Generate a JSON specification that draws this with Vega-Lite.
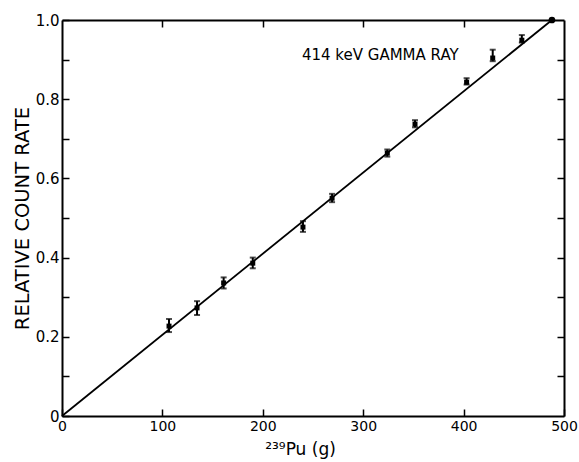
{
  "$schema": "https://vega.github.io/schema/vega-lite/v6.json",
  "width": 502,
  "height": 396,
  "autosize": {"type": "none"},
  "padding": {"left": 62, "top": 20, "right": 15, "bottom": 46},
  "config": {
    "view": {"stroke": null},
    "font": "DejaVu Sans",
    "axis": {
      "domainColor": "black", "domainWidth": 2, "tickColor": "black", "tickWidth": 1.5,
      "grid": false, "labelColor": "black", "titleColor": "black",
      "labelFont": "DejaVu Sans", "titleFont": "DejaVu Sans", "labelFontSize": 14, "titleFontSize": 15, "titleFontWeight": "normal"
    }
  },
  "datasets": {
    "pts": [
      {"pu": 106.6, "rate": 0.227, "lo": 0.212, "hi": 0.245},
      {"pu": 134.5, "rate": 0.273, "lo": 0.255, "hi": 0.29},
      {"pu": 161, "rate": 0.336, "lo": 0.322, "hi": 0.35},
      {"pu": 190, "rate": 0.386, "lo": 0.373, "hi": 0.4},
      {"pu": 240, "rate": 0.477, "lo": 0.465, "hi": 0.492},
      {"pu": 269, "rate": 0.55, "lo": 0.54, "hi": 0.561},
      {"pu": 324, "rate": 0.664, "lo": 0.655, "hi": 0.673},
      {"pu": 351.6, "rate": 0.737, "lo": 0.729, "hi": 0.747},
      {"pu": 403, "rate": 0.843, "lo": 0.837, "hi": 0.853},
      {"pu": 429, "rate": 0.904, "lo": 0.896, "hi": 0.925},
      {"pu": 458, "rate": 0.949, "lo": 0.943, "hi": 0.962}
    ],
    "fit": [
      {"pu": 0, "rate": 0},
      {"pu": 488, "rate": 1.0}
    ],
    "ref": [
      {"pu": 488, "rate": 1.0}
    ],
    "note": [
      {"pu": 239, "rate": 0.912, "label": "414 keV  GAMMA RAY"}
    ]
  },
  "layer": [
    {
      "data": {"name": "fit"},
      "mark": {"type": "line", "color": "black", "strokeWidth": 1.8},
      "encoding": {
        "x": {"field": "pu", "type": "quantitative", "scale": {"domain": [0, 500], "nice": false},
              "axis": {"title": "²³⁹Pu (g)", "titleFontSize": 17, "values": [0, 100, 200, 300, 400, 500], "tickSize": -7, "labelPadding": 10,
                       "titleY": 25, "titleX": 238, "titleAlign": "center", "labelFlush": false}},
        "y": {"field": "rate", "type": "quantitative", "scale": {"domain": [0, 1], "nice": false},
              "axis": {"title": "RELATIVE COUNT RATE", "titleFontSize": 19.5, "labelFontSize": 15, "values": [0, 0.1, 0.2, 0.3, 0.4, 0.5, 0.6, 0.7, 0.8, 0.9, 1.0],
                       "tickSize": -7, "labelPadding": 10, "titleX": -30,
                       "labelExpr": "datum.value == 0 ? '0' : (round(datum.value*10) % 2 == 0 ? format(datum.value, '.1f') : '')"}}
      }
    },
    {
      "data": {"name": "fit"},
      "mark": {"type": "line", "opacity": 0},
      "encoding": {
        "x": {"field": "pu", "type": "quantitative", "axis": {"orient": "top", "title": null, "labels": false, "values": [100, 200, 300, 400], "tickSize": -7}},
        "y": {"field": "rate", "type": "quantitative", "axis": {"orient": "right", "title": null, "labels": false, "values": [0.1, 0.2, 0.3, 0.4, 0.5, 0.6, 0.7, 0.8, 0.9], "tickSize": -7}}
      }
    },
    {
      "data": {"name": "pts"},
      "mark": {"type": "rule", "color": "black", "strokeWidth": 2},
      "encoding": {
        "x": {"field": "pu", "type": "quantitative", "axis": null},
        "y": {"field": "lo", "type": "quantitative", "axis": null},
        "y2": {"field": "hi"}
      }
    },
    {
      "data": {"name": "pts"},
      "mark": {"type": "tick", "color": "black", "orient": "horizontal", "size": 6, "thickness": 2},
      "encoding": {
        "x": {"field": "pu", "type": "quantitative", "axis": null},
        "y": {"field": "lo", "type": "quantitative", "axis": null}
      }
    },
    {
      "data": {"name": "pts"},
      "mark": {"type": "tick", "color": "black", "orient": "horizontal", "size": 6, "thickness": 2},
      "encoding": {
        "x": {"field": "pu", "type": "quantitative", "axis": null},
        "y": {"field": "hi", "type": "quantitative", "axis": null}
      }
    },
    {
      "data": {"name": "pts"},
      "mark": {"type": "square", "color": "black", "filled": true, "opacity": 1, "size": 25},
      "encoding": {
        "x": {"field": "pu", "type": "quantitative", "axis": null},
        "y": {"field": "rate", "type": "quantitative", "axis": null}
      }
    },
    {
      "data": {"name": "ref"},
      "mark": {"type": "circle", "color": "black", "opacity": 1, "size": 45},
      "encoding": {
        "x": {"field": "pu", "type": "quantitative", "axis": null},
        "y": {"field": "rate", "type": "quantitative", "axis": null}
      }
    },
    {
      "data": {"name": "note"},
      "mark": {"type": "text", "align": "left", "baseline": "middle", "fontSize": 15, "fontWeight": 500, "color": "black", "font": "DejaVu Sans"},
      "encoding": {
        "x": {"field": "pu", "type": "quantitative", "axis": null},
        "y": {"field": "rate", "type": "quantitative", "axis": null},
        "text": {"field": "label"}
      }
    }
  ],
  "resolve": {"axis": {"x": "independent", "y": "independent"}}
}
